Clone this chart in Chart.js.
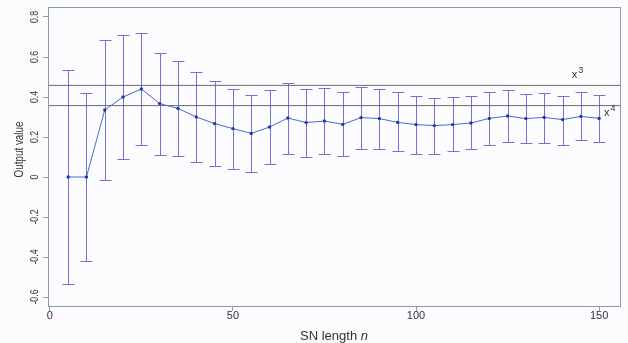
<!DOCTYPE html>
<html>
<head>
<meta charset="utf-8">
<script src="https://cdn.jsdelivr.net/npm/chart.js@4"></script>
<style>
  html, body { margin: 0; padding: 0; background: #fcfcfe; }
  #wrap { width: 628px; height: 343px; }
</style>
</head>
<body>
<div id="wrap"><canvas id="chart"></canvas></div>
<script>
// SN length on the x axis
const snLength = [5, 10, 15, 20, 25, 30, 35, 40, 45, 50, 55, 60, 65, 70, 75,
                  80, 85, 90, 95, 100, 105, 110, 115, 120, 125, 130, 135, 140, 145, 150];
// mean output value
const meanValue = [0, 0, 0.335, 0.40, 0.44, 0.367, 0.343, 0.30, 0.267, 0.242,
                   0.218, 0.25, 0.295, 0.272, 0.28, 0.263, 0.297, 0.292, 0.273, 0.262,
                   0.257, 0.262, 0.27, 0.293, 0.305, 0.292, 0.298, 0.287, 0.303, 0.293];
// top and bottom of each error bar
const upperValue = [0.533, 0.42, 0.687, 0.712, 0.718, 0.622, 0.58, 0.523, 0.48, 0.44,
                    0.41, 0.434, 0.472, 0.44, 0.447, 0.425, 0.45, 0.44, 0.423, 0.405,
                    0.397, 0.40, 0.403, 0.425, 0.433, 0.415, 0.422, 0.407, 0.423, 0.41];
const lowerValue = [-0.533, -0.418, -0.017, 0.088, 0.16, 0.112, 0.105, 0.075, 0.057, 0.038,
                    0.025, 0.065, 0.113, 0.10, 0.113, 0.103, 0.138, 0.138, 0.128, 0.117,
                    0.117, 0.128, 0.138, 0.162, 0.177, 0.17, 0.172, 0.162, 0.185, 0.177];
// reference levels
const refLabels = ['3', '4'];
const refValues = [0.458, 0.357];

const xMin = -0.5, xMax = 155.7;
const yMin = -0.645, yMax = 0.85;

const fontFamily = '"Liberation Sans", Arial, Helvetica, sans-serif';
const textColor = '#333';
const boxColor = '#86a0a8';

// error bars, box, rotated labels and titles
const extras = {
  id: 'extras',
  beforeDatasetsDraw(chart) {
    const ctx = chart.ctx;
    const x = chart.scales.x, y = chart.scales.y;
    ctx.save();
    ctx.strokeStyle = '#7074e0';
    ctx.lineWidth = 1;
    snLength.forEach(function(n, i) {
      const px = Math.round(x.getPixelForValue(n)) + 0.5;
      const top = Math.round(y.getPixelForValue(upperValue[i])) + 0.5;
      const bot = Math.round(y.getPixelForValue(lowerValue[i])) + 0.5;
      ctx.beginPath();
      ctx.moveTo(px, top); ctx.lineTo(px, bot);
      ctx.moveTo(px - 6, top); ctx.lineTo(px + 6, top);
      ctx.moveTo(px - 6, bot); ctx.lineTo(px + 6, bot);
      ctx.stroke();
    });
    ctx.restore();
  },
  afterDraw(chart) {
    const ctx = chart.ctx;
    const a = chart.chartArea;
    const x = chart.scales.x, y = chart.scales.y;
    ctx.save();
    // box
    ctx.strokeStyle = boxColor;
    ctx.lineWidth = 1;
    ctx.strokeRect(Math.round(a.left) + 0.5, Math.round(a.top) + 0.5,
                   Math.round(a.right - a.left), Math.round(a.bottom - a.top));

    ctx.fillStyle = textColor;
    // y tick labels, rotated like R
    ctx.font = '11px ' + fontFamily;
    ctx.textAlign = 'center';
    ctx.textBaseline = 'middle';
    y.ticks.forEach(function(t) {
      const py = y.getPixelForValue(t.value);
      ctx.save();
      ctx.translate(35, py);
      ctx.rotate(-Math.PI / 2);
      ctx.scale(0.8, 1);
      ctx.fillText(String(Math.round(t.value * 10) / 10), 0, 0);
      ctx.restore();
    });

    // y title
    ctx.save();
    ctx.font = '13px ' + fontFamily;
    ctx.translate(19, (a.top + a.bottom) / 2 - 7);
    ctx.rotate(-Math.PI / 2);
    ctx.scale(0.76, 1);
    ctx.fillText('Output value', 0, 0);
    ctx.restore();

    // x title with italic n
    ctx.font = '13px ' + fontFamily;
    const part1 = 'SN length ';
    const w1 = ctx.measureText(part1).width;
    ctx.font = 'italic 13px ' + fontFamily;
    const w2 = ctx.measureText('n').width;
    const startX = (a.left + a.right) / 2 - (w1 + w2) / 2;
    ctx.textAlign = 'left';
    ctx.textBaseline = 'alphabetic';
    ctx.font = '13px ' + fontFamily;
    ctx.fillText(part1, startX, 340);
    ctx.font = 'italic 13px ' + fontFamily;
    ctx.fillText('n', startX + w1, 340);

    // x^3 and x^4 labels
    const labelPos = [[142.5, -7], [151.3, 10]];
    refValues.forEach(function(v, i) {
      const px = x.getPixelForValue(labelPos[i][0]);
      const py = y.getPixelForValue(v) + labelPos[i][1];
      ctx.font = '11px ' + fontFamily;
      ctx.fillText('x', px, py);
      const wx = ctx.measureText('x').width;
      ctx.font = '9px ' + fontFamily;
      ctx.fillText(refLabels[i], px + wx + 1, py - 5);
    });
    ctx.restore();
  }
};

const datasets = [{
  label: 'Output value',
  data: snLength.map(function(n, i) { return {x: n, y: meanValue[i]}; }),
  borderColor: '#4a66d4',
  borderWidth: 1,
  backgroundColor: '#1e3c9e',
  pointRadius: 1.7,
  pointBorderWidth: 0,
  pointBackgroundColor: '#1e3c9e',
  tension: 0
}];
refValues.forEach(function(v, i) {
  datasets.push({
    label: 'x' + refLabels[i],
    data: [{x: xMin, y: v}, {x: xMax, y: v}],
    borderColor: '#6a6a6a',
    borderWidth: 1,
    pointRadius: 0
  });
});

new Chart(document.getElementById('chart'), {
  type: 'line',
  data: { datasets: datasets },
  options: {
    responsive: true,
    maintainAspectRatio: false,
    animation: false,
    layout: { padding: { top: 7, right: 8, left: 0, bottom: 0 } },
    plugins: { legend: { display: false }, tooltip: { enabled: false } },
    scales: {
      x: {
        type: 'linear',
        min: xMin,
        max: xMax,
        afterFit: function(scale) { scale.height = 37; },
        border: { display: false },
        grid: { drawOnChartArea: false, drawTicks: true, tickLength: 5, color: boxColor },
        ticks: {
          stepSize: 50,
          includeBounds: false,
          padding: -2,
          color: textColor,
          font: { family: fontFamily, size: 11 }
        }
      },
      y: {
        min: yMin,
        max: yMax,
        afterFit: function(scale) { scale.width = 48; },
        border: { display: false },
        grid: { drawOnChartArea: false, drawTicks: true, tickLength: 5, color: boxColor },
        ticks: { display: false, stepSize: 0.2, includeBounds: false }
      }
    }
  },
  plugins: [extras]
});
</script>
</body>
</html>
